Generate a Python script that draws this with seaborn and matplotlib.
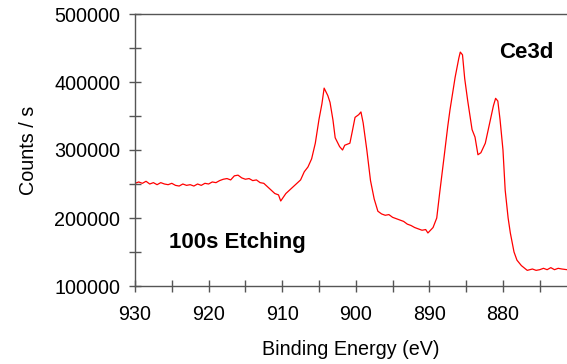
import matplotlib
matplotlib.use("Agg")
import matplotlib.pyplot as plt
import seaborn as sns
import pandas as pd
from matplotlib.ticker import MultipleLocator

binding_energy = [930, 929.5, 929, 928.5, 928, 927.5, 927, 926.5, 926, 925.5, 925, 924.5, 924,
                  923.5, 923, 922.5, 922, 921.5, 921, 920.5, 920, 919.5, 919, 918.5, 918, 917.5,
                  917, 916.5, 916, 915.5, 915, 914.5, 914, 913.5, 913, 912.5, 912, 911.5, 911,
                  910.5, 910.2, 909.5, 909, 908.5, 908, 907.5, 907, 906.5, 906, 905.5, 905, 904.6,
                  904.3, 903.8, 903.5, 903.1, 902.8, 902.2, 901.8, 901.5, 900.8, 900.5, 900.1,
                  899.6, 899.3, 899, 898.5, 898, 897.5, 897, 896.5, 896, 895.5, 895, 894.5, 894,
                  893.5, 893, 892.5, 892, 891.5, 891, 890.5, 890.2, 889.5, 889, 888.6, 888, 887.5,
                  887.2, 886.5, 886, 885.8, 885.5, 885.2, 884.8, 884.2, 883.8, 883.4, 883, 882.4,
                  881.8, 881.3, 881, 880.7, 880.4, 880, 879.7, 879.3, 879, 878.5, 878.1, 877.5,
                  876.7, 876, 875.5, 875, 874.5, 874, 873.5, 873, 872.5, 872, 871.3]
counts = [251000, 253000, 251000, 254000, 250000, 252000, 249000, 252000, 250000, 249000, 251000,
          248000, 247000, 250000, 248000, 249000, 247000, 250000, 248000, 251000, 250000, 253000,
          252000, 255000, 257000, 258000, 256000, 262000, 263000, 259000, 257000, 258000, 255000,
          256000, 252000, 251000, 246000, 241000, 236000, 234000, 225000, 236000, 241000, 246000,
          251000, 256000, 268000, 275000, 287000, 310000, 345000, 368000, 391000, 380000, 370000,
          344000, 318000, 305000, 300000, 307000, 310000, 326000, 348000, 352000, 356000, 340000,
          300000, 255000, 228000, 210000, 206000, 204000, 205000, 201000, 199000, 197000, 195000,
          191000, 189000, 186000, 184000, 182000, 183000, 178000, 186000, 200000, 237000, 290000,
          335000, 359000, 407000, 435000, 444000, 440000, 405000, 373000, 330000, 319000, 293000,
          296000, 310000, 340000, 365000, 376000, 372000, 345000, 300000, 241000, 200000, 178000,
          150000, 138000, 130000, 123000, 125000, 123000, 124000, 126000, 124000, 127000, 124000,
          126000, 125000, 124000]

x_ticks = [930, 920, 910, 900, 890, 880]
y_ticks = [100000, 200000, 300000, 400000, 500000]

df = pd.DataFrame({"Binding Energy (eV)": binding_energy, "Counts / s": counts})

sns.set_style("white")
plt.rcParams["font.family"] = ["Liberation Sans", "DejaVu Sans"]
plt.rcParams["text.color"] = "#000000"
plt.rcParams["axes.labelcolor"] = "#000000"

fig = plt.figure(figsize=(5.67, 3.64), dpi=100)
ax = fig.add_axes([135 / 567, 1 - 286 / 364, 1 - 135 / 567, (286 - 14) / 364])

sns.lineplot(data=df, x="Binding Energy (eV)", y="Counts / s", ax=ax,
             color="#ff0000", linewidth=0.9, sort=False, estimator=None)

ax.set_xlim(930, 871.3)
ax.set_ylim(100000, 500000)
ax.set_xticks(x_ticks)
ax.set_xticklabels([str(t) for t in x_ticks])
ax.set_yticks(y_ticks)
ax.set_yticklabels([str(t) for t in y_ticks])
ax.xaxis.set_minor_locator(MultipleLocator(5))
ax.yaxis.set_minor_locator(MultipleLocator(50000))

spine_col = "#555555"
for side in ["left", "bottom", "top"]:
    ax.spines[side].set_color(spine_col)
    ax.spines[side].set_linewidth(1.0)
ax.spines["right"].set_visible(False)

ax.tick_params(axis="both", which="both", direction="inout", length=8, width=1.0,
               color=spine_col, labelsize=14.2, labelcolor="#000000")
ax.tick_params(axis="x", which="both", bottom=True, top=False, pad=10)
ax.tick_params(axis="y", which="both", left=True, right=False, pad=6.5)

ax.set_xlabel("Binding Energy (eV)", fontsize=14.2, labelpad=11)
ax.set_ylabel("Counts / s", fontsize=14.2, labelpad=12)

ax.text(880.5, 434900, "Ce3d", fontsize=16, fontweight="bold", ha="left", va="baseline")
ax.text(925.4, 155400, "100s Etching", fontsize=16, fontweight="bold", ha="left", va="baseline")

fig.savefig("out.png", dpi=100)
